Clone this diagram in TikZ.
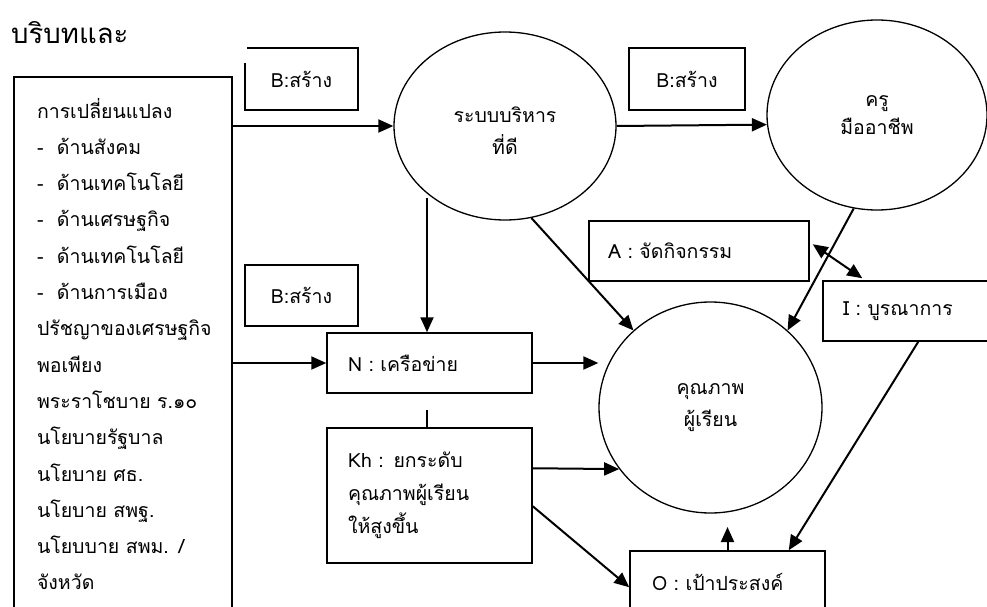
\documentclass[tikz,border=0pt]{standalone}
\usepackage{fontspec}
\setmainfont[Script=Thai]{Loma}
\usetikzlibrary{arrows.meta,calc,shapes.geometric}
\begin{document}
\begin{tikzpicture}[x=1pt,y=-1pt,
  txt/.style={font=\fontsize{19.5}{22}\selectfont},
  box/.style={draw,line width=1.5pt,rectangle,inner ysep=0pt,txt},
  lbox/.style={box,align=left,inner xsep=#1},
  oval/.style={draw,line width=1.3pt,ellipse,inner sep=0pt,txt,align=center},
  arr/.style={line width=2pt,-{Triangle[length=15pt,width=13pt]}},
  darr/.style={line width=2pt,{Triangle[length=15pt,width=13pt]}-{Triangle[length=15pt,width=13pt]}}]
\useasboundingbox (0,0) rectangle (987,607);
\fill[white] (0,0) rectangle (987,607);

% title
\node[anchor=west,inner sep=0pt,font=\fontsize{27.5}{30}\selectfont] (title) at (11,33) {บริบทและ};

% context box
\node[lbox=23pt,minimum width=218pt,minimum height=534pt,text width=172pt,
      font=\fontsize{19.5}{36.3}\selectfont] (ctx) at (123,344) {%
การเปลี่ยนแปลง\\
\makebox[20pt][l]{-}ด้านสังคม\\
\makebox[20pt][l]{-}ด้านเทคโนโลยี\\
\makebox[20pt][l]{-}ด้านเศรษฐกิจ\\
\makebox[20pt][l]{-}ด้านเทคโนโลยี\\
\makebox[20pt][l]{-}ด้านการเมือง\\
ปรัชญาของเศรษฐกิจ\\
พอเพียง\\
พระราโชบาย ร.๑๐\\
นโยบายรัฐบาล\\
นโยบาย ศธ.\\
นโยบาย สพฐ.\\
นโยบบาย สพม. /\\
จังหวัด};

% B boxes
\node[txt,inner sep=0pt,minimum width=113pt,minimum height=62pt] (b1) at (301.5,79) {B:สร้าง};
\draw[line width=1.5pt] ($(b1.north west)+(0,15)$) -- (b1.south west) -- (b1.south east)
   -- (b1.north east) -- ($(b1.north west)+(2,0)$);
\node[box,minimum width=116pt,minimum height=62pt] (b2) at (687,79) {B:สร้าง};
\node[box,minimum width=113pt,minimum height=61pt] (b3) at (301.5,295.5) {B:สร้าง};

% ovals
\node[oval,minimum width=222pt,minimum height=188pt,
      label={[txt,align=center,yshift=-5pt,font=\fontsize{19.5}{32}\selectfont]center:ระบบบริหาร\\ที่ดี}] (sys) at (505,126) {};
\node[oval,minimum width=220pt,minimum height=190pt,font=\fontsize{19.5}{28}\selectfont] (pro) at (877,115) {ครู\\มืออาชีพ};
\node[oval,minimum width=223pt,minimum height=211pt,font=\fontsize{19.5}{32}\selectfont] (qual) at (710.5,407.5) {คุณภาพ\\ผู้เรียน};

% boxes
\node[lbox=19pt,minimum width=220pt,minimum height=60pt,text width=182pt] (a) at (699,251) {A : จัดกิจกรรม};
\node[lbox=20pt,minimum width=177pt,minimum height=60pt,text width=137pt] (i) at (911.5,311) {I : บูรณาการ};
\node[lbox=21pt,minimum width=205pt,minimum height=60pt,text width=163pt] (net) at (429.5,363) {N : เครือข่าย};
\node[lbox=21pt,minimum width=205pt,minimum height=135pt,text width=163pt,
      font=\fontsize{19.5}{33}\selectfont] (kh) at (429.5,495.5) {Kh : ยกระดับ\\คุณภาพผู้เรียน\\ให้สูงขึ้น};
\node[lbox=22pt,minimum width=195pt,minimum height=62pt,text width=151pt] (o) at (727.5,582) {O : เป้าประสงค์};

% connectors
\draw[arr] (sys.west -| ctx.east) -- (sys.west);
\draw[arr] (net.west -| ctx.east) -- (net.west);
\draw[arr] (sys.east) -- (pro.185);
\coordinate (s3) at (427,198);
\draw[arr] (s3) -- (s3 |- net.north);
\draw[arr] (sys.-74) -- (qual.135);
\draw[arr] (pro.-104) -- (qual.45);
\draw[darr] ($(a.north east)+(3,24)$) -- ($(i.north west)+(40,-2)$);
\draw[arr] (net.east) -- (net.east -| qual.west);
\draw[arr] ($(kh.north east)+(0,41)$) -- (qual.214);
\draw[arr] ($(kh.north east)+(0,79)$) -- ($(o.north west)+(0,37)$);
\coordinate (oq) at (727.5,527);
\draw[arr] (o.north) -- (oq);
\draw[arr] ($(i.south west)+(96,0)$) -- ($(o.north east)+(-37,0)$);
\coordinate (tick) at (427,410);
\draw[line width=1.5pt] (tick) -- (tick |- kh.north);
\end{tikzpicture}
\end{document}
